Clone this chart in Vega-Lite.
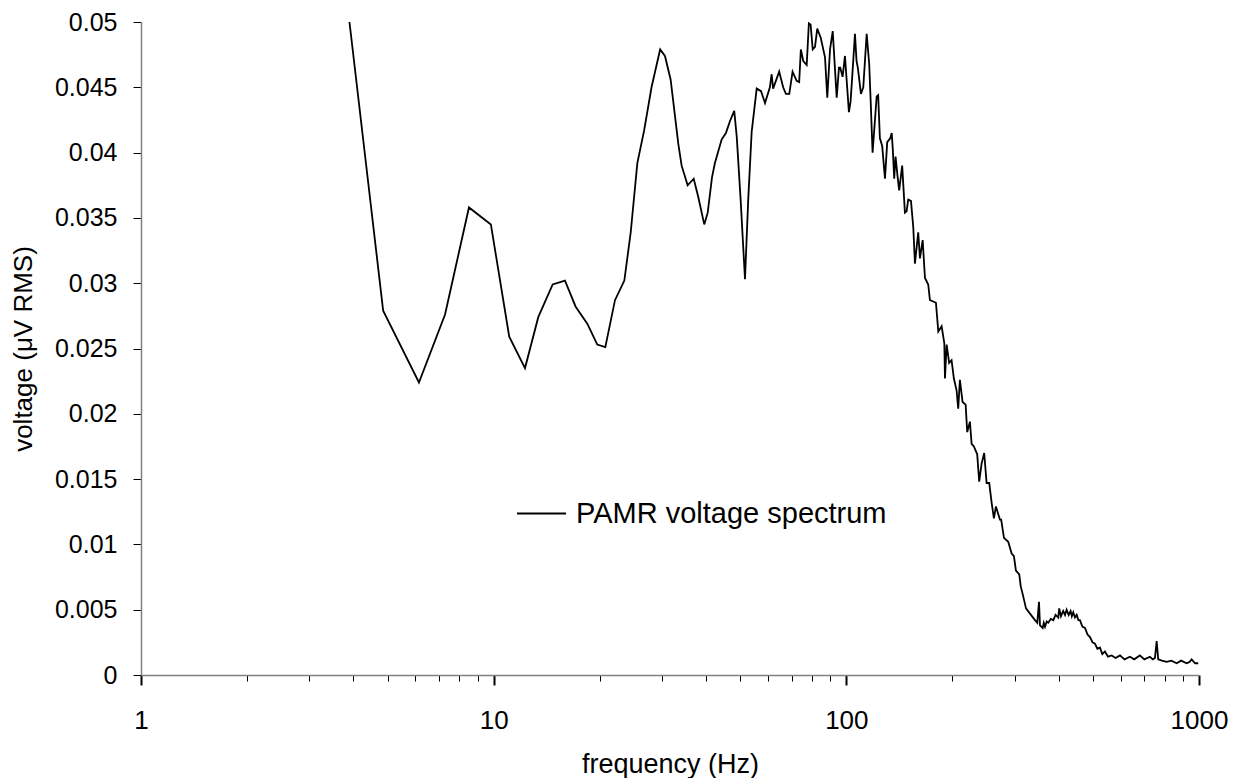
{
  "$schema": "https://vega.github.io/schema/vega-lite/v6.json",
  "autosize": {"type": "none"},
  "width": 1058,
  "height": 653,
  "padding": {"left": 141, "top": 22, "right": 44, "bottom": 103},
  "background": "white",
  "config": {
    "view": {"stroke": null},
    "font": "Liberation Sans",
    "axis": {"grid": false, "labelFont": "Liberation Sans", "titleFont": "Liberation Sans", "labelColor": "black", "titleColor": "black", "titleFontWeight": "normal", "domainColor": "#808080", "domainWidth": 1.5, "tickColor": "black"}
  },
  "data": {"values": [
    {"f": 3.9, "v": 0.0500}, {"f": 4.86, "v": 0.0279}, {"f": 6.14, "v": 0.0224}, {"f": 7.28, "v": 0.0276},
    {"f": 8.51, "v": 0.0358}, {"f": 9.82, "v": 0.0345}, {"f": 11.07, "v": 0.0259}, {"f": 12.27, "v": 0.0235},
    {"f": 13.38, "v": 0.0274}, {"f": 14.70, "v": 0.0299}, {"f": 15.93, "v": 0.0302}, {"f": 17.08, "v": 0.0282},
    {"f": 18.43, "v": 0.0269}, {"f": 19.67, "v": 0.0253}, {"f": 20.73, "v": 0.0251}, {"f": 22.08, "v": 0.0287},
    {"f": 23.47, "v": 0.0302}, {"f": 24.47, "v": 0.0339}, {"f": 25.55, "v": 0.0392}, {"f": 26.71, "v": 0.0417},
    {"f": 28.03, "v": 0.0450}, {"f": 29.65, "v": 0.0479}, {"f": 30.6, "v": 0.0474}, {"f": 31.75, "v": 0.0456},
    {"f": 32.87, "v": 0.0422}, {"f": 33.37, "v": 0.0407}, {"f": 34.12, "v": 0.0390}, {"f": 35.48, "v": 0.0375},
    {"f": 36.92, "v": 0.0380}, {"f": 38.03, "v": 0.0366}, {"f": 39.55, "v": 0.0345}, {"f": 40.45, "v": 0.0354},
    {"f": 41.6, "v": 0.0381}, {"f": 42.4, "v": 0.0392}, {"f": 44.3, "v": 0.0410}, {"f": 45.56, "v": 0.0415},
    {"f": 46.76, "v": 0.0424}, {"f": 48.1, "v": 0.0432}, {"f": 48.9, "v": 0.0412}, {"f": 50.15, "v": 0.0364},
    {"f": 51.6, "v": 0.0303}, {"f": 52.7, "v": 0.0364}, {"f": 53.9, "v": 0.0416}, {"f": 55.7, "v": 0.0449},
    {"f": 57.3, "v": 0.0447}, {"f": 58.8, "v": 0.0438}, {"f": 60.7, "v": 0.0450}, {"f": 61.4, "v": 0.0460},
    {"f": 62.0, "v": 0.0449}, {"f": 64.5, "v": 0.0462}, {"f": 66.2, "v": 0.0450}, {"f": 67.4, "v": 0.0445},
    {"f": 68.9, "v": 0.0445}, {"f": 70.4, "v": 0.0462}, {"f": 72.3, "v": 0.0455}, {"f": 73.5, "v": 0.0454},
    {"f": 74.3, "v": 0.0479}, {"f": 75.5, "v": 0.0470}, {"f": 77.2, "v": 0.0467}, {"f": 78.3, "v": 0.0499},
    {"f": 79.2, "v": 0.0498}, {"f": 80.3, "v": 0.0479}, {"f": 81.5, "v": 0.0481}, {"f": 82.7, "v": 0.0495},
    {"f": 84.6, "v": 0.0488}, {"f": 87.0, "v": 0.0473}, {"f": 88.3, "v": 0.0442}, {"f": 89.9, "v": 0.0479},
    {"f": 91.5, "v": 0.0493}, {"f": 93.9, "v": 0.0442}, {"f": 95.3, "v": 0.0465}, {"f": 96.1, "v": 0.0465},
    {"f": 97.6, "v": 0.0458}, {"f": 99.1, "v": 0.0474}, {"f": 101.7, "v": 0.0431}, {"f": 102.8, "v": 0.0439},
    {"f": 104.2, "v": 0.0463}, {"f": 105.8, "v": 0.0491}, {"f": 106.9, "v": 0.0470}, {"f": 107.8, "v": 0.0465},
    {"f": 110.0, "v": 0.0445}, {"f": 111.7, "v": 0.0450}, {"f": 114.2, "v": 0.0491}, {"f": 116.1, "v": 0.0468},
    {"f": 117.2, "v": 0.0440}, {"f": 118.7, "v": 0.0400}, {"f": 121.9, "v": 0.0443}, {"f": 123.1, "v": 0.0444},
    {"f": 124.5, "v": 0.0411}, {"f": 126.4, "v": 0.0405}, {"f": 128.7, "v": 0.0380}, {"f": 130.6, "v": 0.0408},
    {"f": 133.2, "v": 0.0411}, {"f": 134.5, "v": 0.0415}, {"f": 135.4, "v": 0.0403}, {"f": 136.7, "v": 0.0380},
    {"f": 137.9, "v": 0.0397}, {"f": 139.7, "v": 0.0382}, {"f": 141.2, "v": 0.0371}, {"f": 144.0, "v": 0.0390},
    {"f": 146.6, "v": 0.0354}, {"f": 148.2, "v": 0.0355}, {"f": 149.8, "v": 0.0364}, {"f": 152.5, "v": 0.0363},
    {"f": 154.8, "v": 0.0343}, {"f": 156.5, "v": 0.0315}, {"f": 159.9, "v": 0.0339}, {"f": 161.7, "v": 0.0319},
    {"f": 164.6, "v": 0.0333}, {"f": 167.1, "v": 0.0304}, {"f": 170.7, "v": 0.0299}, {"f": 172.6, "v": 0.0287},
    {"f": 176.4, "v": 0.0286}, {"f": 179.5, "v": 0.0285}, {"f": 182.3, "v": 0.0263}, {"f": 186.3, "v": 0.0267},
    {"f": 189.6, "v": 0.0254}, {"f": 190.4, "v": 0.0227}, {"f": 192.5, "v": 0.0253}, {"f": 195.7, "v": 0.0239},
    {"f": 198.8, "v": 0.0241}, {"f": 201.8, "v": 0.0227}, {"f": 205.4, "v": 0.0218}, {"f": 207.6, "v": 0.0204},
    {"f": 209.9, "v": 0.0226}, {"f": 213.6, "v": 0.0209}, {"f": 217.9, "v": 0.0207}, {"f": 220.2, "v": 0.0186},
    {"f": 224.1, "v": 0.0194}, {"f": 226.6, "v": 0.0177}, {"f": 230.0, "v": 0.0175}, {"f": 235.0, "v": 0.0169},
    {"f": 238.1, "v": 0.0148}, {"f": 241.9, "v": 0.0162}, {"f": 246.0, "v": 0.0170}, {"f": 249.9, "v": 0.0147},
    {"f": 254.2, "v": 0.0147}, {"f": 258.2, "v": 0.0132}, {"f": 262.1, "v": 0.0120}, {"f": 265.6, "v": 0.0129},
    {"f": 272.6, "v": 0.0119}, {"f": 274.8, "v": 0.0119}, {"f": 279.9, "v": 0.0105}, {"f": 287.8, "v": 0.0102},
    {"f": 294.3, "v": 0.0093}, {"f": 298.7, "v": 0.0091}, {"f": 302.6, "v": 0.0080}, {"f": 309.3, "v": 0.0077},
    {"f": 312.2, "v": 0.0068}, {"f": 317.5, "v": 0.0060}, {"f": 323.2, "v": 0.0051}, {"f": 331.7, "v": 0.0047},
    {"f": 342.7, "v": 0.0042}, {"f": 347.9, "v": 0.0040}, {"f": 351.8, "v": 0.0056}, {"f": 354.1, "v": 0.0038},
    {"f": 360.4, "v": 0.0036}, {"f": 363.0, "v": 0.0040}, {"f": 365.9, "v": 0.0037}, {"f": 370.0, "v": 0.0041},
    {"f": 373.9, "v": 0.0040}, {"f": 380.0, "v": 0.0043}, {"f": 386.3, "v": 0.0042}, {"f": 392.0, "v": 0.0046},
    {"f": 399, "v": 0.0044}, {"f": 401.5, "v": 0.0051}, {"f": 406.0, "v": 0.0045}, {"f": 412.1, "v": 0.0049},
    {"f": 417.0, "v": 0.0046}, {"f": 421.3, "v": 0.0050}, {"f": 427.0, "v": 0.0046}, {"f": 432.5, "v": 0.0049},
    {"f": 436.0, "v": 0.0045}, {"f": 440, "v": 0.0048}, {"f": 445.0, "v": 0.0044}, {"f": 450, "v": 0.0046},
    {"f": 455.0, "v": 0.0042}, {"f": 459.6, "v": 0.0042}, {"f": 467.0, "v": 0.0037}, {"f": 475, "v": 0.0036},
    {"f": 483.0, "v": 0.0031}, {"f": 490.8, "v": 0.0029}, {"f": 499.0, "v": 0.0025}, {"f": 507, "v": 0.0024},
    {"f": 515.0, "v": 0.0020}, {"f": 523.7, "v": 0.0021}, {"f": 532.0, "v": 0.0016}, {"f": 541, "v": 0.0018},
    {"f": 552.0, "v": 0.0014}, {"f": 565.2, "v": 0.0015}, {"f": 580.0, "v": 0.0013}, {"f": 596.9, "v": 0.0015},
    {"f": 615.0, "v": 0.0012}, {"f": 637.1, "v": 0.0014}, {"f": 655.0, "v": 0.0012}, {"f": 679.8, "v": 0.0015},
    {"f": 700.0, "v": 0.0012}, {"f": 725.6, "v": 0.0014}, {"f": 740.0, "v": 0.0012}, {"f": 750, "v": 0.0013},
    {"f": 758.5, "v": 0.0026}, {"f": 766.3, "v": 0.0012}, {"f": 785.0, "v": 0.0011}, {"f": 809.6, "v": 0.0010},
    {"f": 835.0, "v": 0.0011}, {"f": 864.3, "v": 0.0009}, {"f": 890.0, "v": 0.0011}, {"f": 922.4, "v": 0.0009},
    {"f": 940.0, "v": 0.0010}, {"f": 952.7, "v": 0.0012}, {"f": 975.0, "v": 0.0009}, {"f": 995, "v": 0.0009}
  ]},
  "mark": {"type": "line", "strokeWidth": 1.8, "clip": true, "interpolate": "linear"},
  "encoding": {
    "x": {
      "field": "f", "type": "quantitative",
      "scale": {"type": "log", "domain": [1, 1000], "nice": false},
      "axis": {
        "title": "frequency (Hz)",
        "titleFontSize": 27,
        "titlePadding": 18,
        "values": [1, 2, 3, 4, 5, 6, 7, 8, 9, 10, 20, 30, 40, 50, 60, 70, 80, 90, 100, 200, 300, 400, 500, 600, 700, 800, 900, 1000],
        "labelExpr": "indexof([1,10,100,1000], datum.value) >= 0 ? format(datum.value, 'd') : ''",
        "labelFontSize": 26,
        "labelPadding": 22,
        "labelFlush": false,
        "labelOverlap": false,
        "tickSize": {"condition": {"test": "indexof([1,10,100,1000], datum.value) >= 0", "value": 10}, "value": 6},
        "tickWidth": {"condition": {"test": "indexof([1,10,100,1000], datum.value) >= 0", "value": 2}, "value": 1}
      }
    },
    "y": {
      "field": "v", "type": "quantitative",
      "scale": {"domain": [0, 0.05], "nice": false, "zero": true},
      "axis": {
        "title": "voltage (μV RMS)",
        "titleFontSize": 26,
        "titlePadding": 18,
        "values": [0, 0.005, 0.01, 0.015, 0.02, 0.025, 0.03, 0.035, 0.04, 0.045, 0.05],
        "format": ".3~f",
        "labelFontSize": 25,
        "labelPadding": 16,
        "tickSize": 8,
        "tickWidth": 1
      }
    },
    "color": {
      "datum": "PAMR voltage spectrum",
      "scale": {"range": ["black"]},
      "legend": {
        "title": null,
        "orient": "none",
        "legendX": 375,
        "legendY": 466,
        "padding": 0,
        "symbolType": "stroke",
        "symbolSize": 2401,
        "symbolStrokeWidth": 1.8,
        "symbolStrokeColor": "black",
        "labelFont": "Liberation Sans",
        "labelFontSize": 29,
        "labelColor": "black",
        "labelOffset": 9,
        "labelLimit": 600
      }
    }
  }
}
